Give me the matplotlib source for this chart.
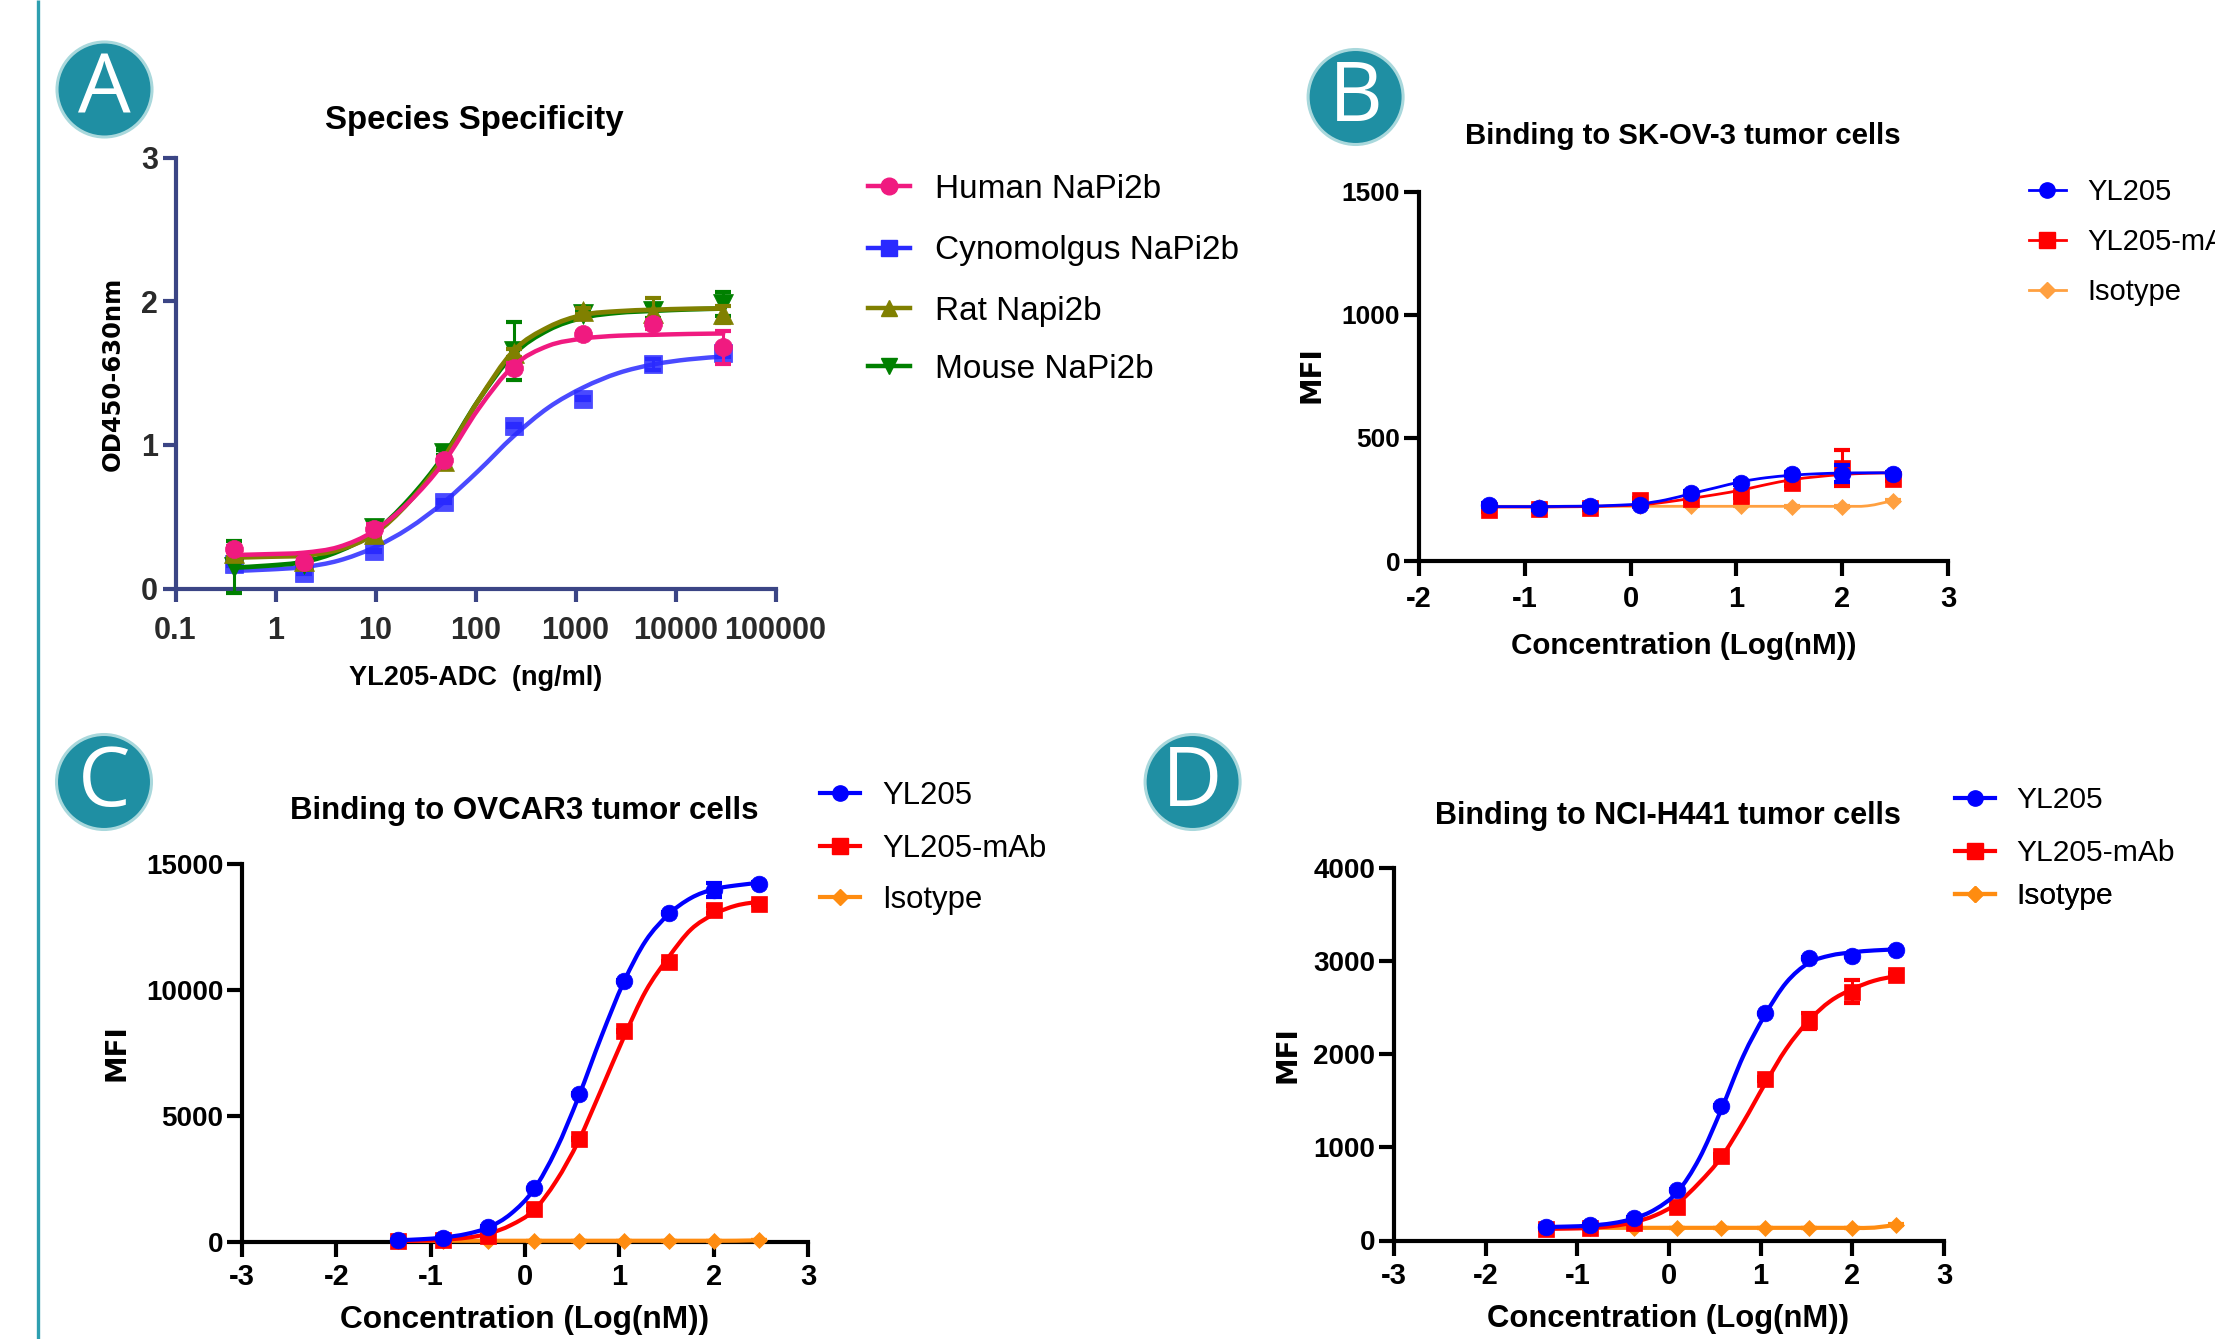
import numpy as np
import matplotlib
matplotlib.use("Agg")
import matplotlib.pyplot as plt
from matplotlib.lines import Line2D
from matplotlib.patches import Circle, PathPatch
from matplotlib.path import Path

plt.rcParams['font.family'] = ['Liberation Sans', 'DejaVu Sans']

W, H = 2215, 1339

# ---------- Panel A ----------
a_conc = [0.384, 1.92, 9.6, 48, 240, 1200, 6000, 30000]
a_human = [0.278, 0.186, 0.418, 0.893, 1.538, 1.775, 1.84, 1.678]
a_cyno = [0.17, 0.11, 0.262, 0.606, 1.132, 1.32, 1.56, 1.643]
a_rat = [0.25, 0.19, 0.38, 0.89, 1.64, 1.93, 1.92, 1.91]
a_mouse = [0.15, 0.17, 0.42, 0.947, 1.654, 1.91, 1.93, 1.98]
a_human_err = [0.02, 0.02, 0.03, 0.02, 0.03, 0.01, 0.03, 0.115]
a_cyno_err = [0.01, 0.01, 0.01, 0.01, 0.01, 0.01, 0.04, 0.03]
a_rat_err = [0.03, 0.01, 0.02, 0.02, 0.03, 0.02, 0.10, 0.06]
a_mouse_err = [0.18, 0.02, 0.05, 0.02, 0.20, 0.03, 0.05, 0.085]
a_curve_x = [0.384, 0.859, 1.92, 4.29, 9.6, 21.5, 48, 107, 240, 537, 1200, 2683, 6000, 13416, 30000]
a_human_c = [.234, .240, .25, .29, .40, .60, .877, 1.25, 1.55, 1.69, 1.74, 1.76, 1.766, 1.772, 1.775]
a_cyno_c = [.123, .133, .15, .195, .285, .42, .60, .82, 1.06, 1.26, 1.40, 1.50, 1.56, 1.595, 1.615]
a_rat_c = [.216, .222, .23, .27, .378, .60, .91, 1.31, 1.654, 1.82, 1.905, 1.93, 1.94, 1.947, 1.949]
a_mouse_c = [.146, .16, .186, .26, .39, .62, .923, 1.31, 1.63, 1.80, 1.886, 1.92, 1.933, 1.943, 1.949]
a_xticks = [0.1, 1, 10, 100, 1000, 10000, 100000]
a_xlabels = ['0.1', '1', '10', '100', '1000', '10000', '100000']
a_yticks = [0, 1, 2, 3]
a_names = ['Human NaPi2b', 'Cynomolgus NaPi2b', 'Rat Napi2b', 'Mouse NaPi2b']

# ---------- Panels B, C, D ----------
log_x = [-1.342, -0.864, -0.387, 0.091, 0.568, 1.046, 1.523, 2.0, 2.477]
curve_x = [-1.342, -1.10, -0.864, -0.62, -0.387, -0.15, 0.091, 0.33, 0.568, 0.81,
           1.046, 1.28, 1.523, 1.76, 2.0, 2.24, 2.477]
log_ticks_b = [-2, -1, 0, 1, 2, 3]
log_ticks = [-3, -2, -1, 0, 1, 2, 3]
names = ['YL205', 'YL205-mAb', 'Isotype']

b_yl = [228, 217, 225, 228, 275, 317, 355, 355, 355]
b_mab = [207, 210, 214, 246, 250, 264, 315, 379, 333]
b_iso = [228, 220, 222, 223, 225, 225, 221, 221, 245]
b_yl_err = [8, 8, 6, 6, 8, 8, 8, 35, 6]
b_mab_err = [8, 6, 6, 8, 6, 10, 10, 73, 8]
b_iso_err = [3, 3, 3, 3, 3, 3, 3, 3, 3]
b_yl_c = [221, 221, 221, 222, 223, 226, 232, 248, 273, 298, 322, 338, 348, 354, 357, 358, 358]
b_mab_c = [219, 219, 219, 220, 221, 224, 228, 239, 254, 270, 288, 310, 330, 342, 351, 356, 358]
b_iso_c = [222, 222, 222, 222, 222, 222, 222, 222, 222, 222, 222, 222, 222, 222, 222, 224, 245]
b_yticks = [0, 500, 1000, 1500]

c_yl = [50, 145, 567, 2106, 5848, 10335, 13057, 13964, 14223]
c_mab = [32, 50, 227, 1280, 4066, 8375, 11113, 13186, 13430]
c_iso = [30, 30, 30, 30, 30, 30, 30, 30, 50]
c_yl_err = [20, 20, 30, 30, 40, 40, 50, 280, 60]
c_mab_err = [20, 20, 30, 30, 40, 40, 50, 150, 60]
c_iso_err = [5, 5, 5, 5, 5, 5, 5, 5, 5]
c_yl_c = [50, 90, 160, 300, 560, 1100, 2050, 3650, 5750, 8150, 10300, 11950, 13000, 13650, 14000, 14150, 14250]
c_mab_c = [20, 35, 70, 150, 310, 650, 1230, 2400, 4000, 6050, 8100, 9950, 11300, 12400, 13000, 13350, 13500]
c_iso_c = [30, 30, 30, 30, 30, 30, 30, 30, 30, 30, 30, 30, 30, 30, 30, 32, 50]
c_yticks = [0, 5000, 10000, 15000]

d_yl = [144, 162, 241, 538, 1440, 2438, 3037, 3055, 3116]
d_mab = [123, 131, 184, 359, 906, 1733, 2360, 2670, 2850]
d_iso = [136, 136, 136, 136, 136, 136, 136, 136, 170]
d_yl_err = [10, 10, 10, 10, 10, 10, 10, 10, 10]
d_mab_err = [10, 10, 10, 10, 20, 20, 85, 125, 25]
d_iso_err = [3, 3, 3, 3, 3, 3, 3, 3, 3]
d_yl_c = [145, 150, 160, 185, 235, 335, 520, 880, 1400, 1980, 2420, 2770, 2980, 3060, 3095, 3115, 3125]
d_mab_c = [125, 128, 135, 155, 195, 270, 400, 620, 890, 1270, 1680, 2060, 2360, 2570, 2700, 2790, 2840]
d_iso_c = [136, 136, 136, 136, 136, 136, 136, 136, 136, 136, 136, 136, 136, 136, 136, 138, 170]
d_yticks = [0, 1000, 2000, 3000, 4000]

fig = plt.figure(figsize=(W / 100, H / 100), dpi=100, facecolor='white')
ov = fig.add_axes([0, 0, 1, 1], zorder=0)
ov.set_xlim(0, W)
ov.set_ylim(H, 0)
ov.axis('off')
ov.plot([38, 38], [0, H], color='#2e9fb0', lw=2.4, solid_capstyle='butt')


def badge(x, y, s):
    ov.add_patch(Circle((x, y), 47.5, fc='#1f8fa3', ec='#a9d8dc', lw=2.2))
    ov.text(x, y + 3, s, color='white', fontsize=60, family='Open Sans', ha='center', va='center')


def make_axes(l, r, t, b, col, lw, ticklen, xfs, yfs, xpad, ypad):
    ax = fig.add_axes([l / W, 1 - b / H, (r - l) / W, (b - t) / H], zorder=2)
    ax.patch.set_alpha(0)
    for s in ('top', 'right'):
        ax.spines[s].set_visible(False)
    for s in ('left', 'bottom'):
        ax.spines[s].set_linewidth(lw)
        ax.spines[s].set_color(col)
    ax.tick_params(axis='both', which='major', length=ticklen, width=lw, color=col)
    ax.tick_params(axis='x', pad=xpad, labelsize=xfs)
    ax.tick_params(axis='y', pad=ypad, labelsize=yfs)
    ax.minorticks_off()
    return ax


def texts(ax, title, xl, yl, tp, xp, yp, tfs, xfs, yfs, tick_col='black'):
    t = ax.set_title(title, fontsize=tfs, fontweight='bold', y=1)
    t.set_transform(ov.transData)
    t.set_position(tp)
    t.set_va('center')
    t.set_ha('center')
    ax.set_xlabel(xl, fontsize=xfs, fontweight='bold', va='center')
    ax.xaxis.set_label_coords(xp[0], xp[1], transform=ov.transData)
    ax.set_ylabel(yl, fontsize=yfs, fontweight='bold', va='center', family='DejaVu Sans')
    ax.yaxis.set_label_coords(yp[0], yp[1], transform=ov.transData)
    for lab in ax.get_xticklabels() + ax.get_yticklabels():
        lab.set_fontweight('bold')
        lab.set_color(tick_col)


def smooth_curve(ax, cx, cy, col, lw, z, alpha):
    """Draw a smooth Bezier stroke through the read curve values."""
    tr = ax.xaxis.get_transform()
    u = tr.transform(np.asarray(cx, float))
    pts = np.column_stack([u, np.asarray(cy, float)])
    n = len(pts)
    verts, codes = [pts[0]], [Path.MOVETO]
    for i in range(n - 1):
        p0 = pts[max(i - 1, 0)]
        p1, p2 = pts[i], pts[i + 1]
        p3 = pts[min(i + 2, n - 1)]
        verts += [p1 + (p2 - p0) / 6, p2 - (p3 - p1) / 6, p2]
        codes += [Path.CURVE4] * 3
    v = np.array(verts)
    v[:, 0] = tr.inverted().transform(v[:, 0])
    ax.add_patch(PathPatch(Path(v, codes), fc='none', ec=col, lw=lw, zorder=z, clip_on=False,
                           alpha=alpha, capstyle='round'))


def series(ax, x, y, err, cx, cy, col, mk, ms, lw, z, alpha=1.0):
    ax.errorbar(x, y, yerr=err, fmt='none', ecolor=col, elinewidth=2.2, capsize=6,
                capthick=3.0, zorder=z, clip_on=False)
    smooth_curve(ax, cx, cy, col, lw, z, alpha)
    ax.plot(x, y, ls='none', marker=mk, ms=ms, mfc=col, mec=col, mew=0.5, zorder=z + 0.1,
            clip_on=False, alpha=alpha)


def legend(names_, cols, mks, mss, lw, x, rows, fs, hl, pad):
    for n, c, m, s, y in zip(names_, cols, mks, mss, rows):
        h = Line2D([], [], color=c, marker=m, ms=s, lw=lw, mec=c)
        lg = ov.legend([h], [n], loc='center left', bbox_to_anchor=(x, y), bbox_transform=ov.transData,
                       frameon=False, fontsize=fs, handlelength=hl, handletextpad=pad,
                       borderpad=0, borderaxespad=0, numpoints=1)
        ov.add_artist(lg)


# Panel A
badge(104.5, 89.5, 'A')
NAVY = '#3b4585'
ax = make_axes(175.5, 775.5, 157.5, 588.6, NAVY, 3.0, 9.5, 22, 22, 10, 3)
ax.set_xscale('log')
ax.set_xlim(0.1, 100000)
ax.set_ylim(0, 3)
ax.set_xticks(a_xticks)
ax.set_xticklabels(a_xlabels)
ax.set_yticks(a_yticks)
ax.minorticks_off()
series(ax, a_conc, a_cyno, a_cyno_err, a_curve_x, a_cyno_c, '#2a2aff', 's', 12.5, 3.2, 3, alpha=0.85)
series(ax, a_conc, a_mouse, a_mouse_err, a_curve_x, a_mouse_c, '#008000', 'v', 14, 3.4, 4)
series(ax, a_conc, a_rat, a_rat_err, a_curve_x, a_rat_c, '#808000', '^', 14, 3.4, 5)
series(ax, a_conc, a_human, a_human_err, a_curve_x, a_human_c, '#f01a80', 'o', 13, 3.2, 6)
texts(ax, 'Species Specificity', 'YL205-ADC  (ng/ml)', 'OD450-630nm', (474.7, 121), (476, 678), (112.7, 373.5),
      23.8, 19.5, 17.5, tick_col='#2a2a2a')
legend(a_names, ['#f01a80', '#2a2aff', '#808000', '#008000'], ['o', 's', '^', 'v'], [12, 12, 12, 12], 3.2,
       868, [189, 251, 311.5, 369], 24, 1.26, 0.75)

BLUE, RED = '#0000ff', '#ff0000'


def binding(l, r, t, b, xt, xlim, ylim, yt, yl, ml, iso, el, em, ei, cl, cm, ci, iso_col, lw, title, tp, xp, yp, bad,
            lx, lrows, lfs, hl, pad, tfs, xfs, yfs, xpad):
    badge(*bad)
    ax = make_axes(l, r, t, b, 'black', 3.0, 10.5, 21, yfs, xpad, 3)
    ax.set_xlim(*xlim)
    ax.set_ylim(*ylim)
    ax.set_xticks(xt)
    ax.set_yticks(yt)
    ax.set_xticklabels([str(v) for v in xt])
    ax.set_yticklabels([str(v) for v in yt])
    series(ax, log_x, iso, ei, curve_x, ci, iso_col, 'D', 8, lw, 3)
    series(ax, log_x, ml, em, curve_x, cm, RED, 's', 12, lw, 4)
    series(ax, log_x, yl, el, curve_x, cl, BLUE, 'o', 12, lw, 5)
    texts(ax, title, 'Concentration (Log(nM))', 'MFI', tp, xp, yp, tfs, xfs, 20)
    legend(names, [BLUE, RED, iso_col], ['o', 's', 'D'], [11, 11, 8], lw, lx, lrows, lfs, hl, pad)


binding(1419, 1948, 191.5, 561, log_ticks_b, (-2, 3), (0, 1500), b_yticks, b_yl, b_mab, b_iso,
        b_yl_err, b_mab_err, b_iso_err, b_yl_c, b_mab_c, b_iso_c, '#ffa040', 2.0,
        'Binding to SK-OV-3 tumor cells', (1683, 136.5), (1683.5, 646.5), (1312, 375), (1355.6, 97, 'B'),
        2028.6, [192, 242, 292], 21, 1.27, 0.76, 21.2, 21.3, 19, 7)
binding(242, 808, 864, 1241.5, log_ticks, (-3, 3), (0, 15000), c_yticks, c_yl, c_mab, c_iso,
        c_yl_err, c_mab_err, c_iso_err, c_yl_c, c_mab_c, c_iso_c, '#ff8c10', 3.0,
        'Binding to OVCAR3 tumor cells', (524, 811), (525, 1320), (117, 1053), (104, 782, 'C'),
        820, [796, 849, 900], 22.4, 1.29, 0.72, 22.5, 22.8, 20, 5)
binding(1394, 1944, 868, 1240.5, log_ticks, (-3, 3), (0, 4000), d_yticks, d_yl, d_mab, d_iso,
        d_yl_err, d_mab_err, d_iso_err, d_yl_c, d_mab_c, d_iso_c, '#ff8c10', 3.0,
        'Binding to NCI-H441 tumor cells', (1668, 816), (1668.5, 1318.5), (1287.6, 1054.5), (1192.6, 782, 'D'),
        1955, [800, 853, 896], 21.6, 1.33, 0.70, 22, 22.3, 20, 5)

fig.savefig('out.png', dpi=100)
